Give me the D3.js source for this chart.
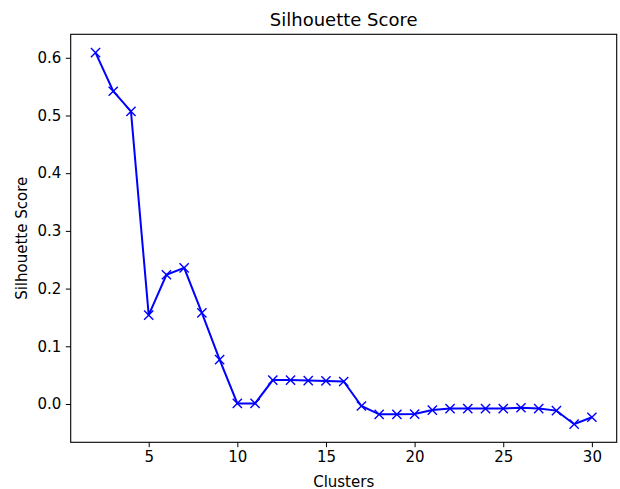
<!DOCTYPE html>
<html>
<head>
<meta charset="utf-8">
<script src="https://cdn.jsdelivr.net/npm/d3@7"></script>
<style>
  body { margin: 0; background: #fff; }
  text { font-family: "DejaVu Sans", sans-serif; fill: #000; }
</style>
</head>
<body>
<div id="chart"></div>
<script>
const clusters = [2, 3, 4, 5, 6, 7, 8, 9, 10, 11, 12, 13, 14, 15, 16, 17, 18, 19, 20, 21, 22, 23, 24, 25, 26, 27, 28, 29, 30];
const scores = [0.609, 0.542, 0.507, 0.154, 0.224, 0.236, 0.158, 0.077, 0.001, 0.001,
  0.0415, 0.0415, 0.0405, 0.040, 0.039, -0.0035, -0.018, -0.018, -0.0175, -0.0105,
  -0.008, -0.008, -0.008, -0.008, -0.0065, -0.008, -0.0115, -0.035, -0.023];
const xTicks = [5, 10, 15, 20, 25, 30];
const yTicks = [0.0, 0.1, 0.2, 0.3, 0.4, 0.5, 0.6];

const width = 620, height = 489;
const margin = {top: 34.3, right: 3.3, bottom: 46.7, left: 70.7};

const svg = d3.select("#chart").append("svg")
  .attr("width", width)
  .attr("height", height);

const xScale = d3.scaleLinear()
  .domain([0.6, 31.4])
  .range([margin.left, width - margin.right]);

const yScale = d3.scaleLinear()
  .domain([-0.0664, 0.6407])
  .range([height - margin.bottom, margin.top]);

// axes
const xAxis = svg.append("g")
  .attr("transform", `translate(0,${height - margin.bottom})`)
  .call(d3.axisBottom(xScale).tickValues(xTicks).tickFormat(d3.format("d")).tickSize(4.9).tickPadding(4.5));

const yAxis = svg.append("g")
  .attr("transform", `translate(${margin.left},0)`)
  .call(d3.axisLeft(yScale).tickValues(yTicks).tickFormat(d3.format(".1f")).tickSize(4.9).tickPadding(4.5));

[xAxis, yAxis].forEach(a => {
  a.select(".domain").remove();
  a.selectAll("text").style("font-size", "15px").style("font-family", "DejaVu Sans");
  a.selectAll("line").attr("stroke", "#000").attr("stroke-width", 1);
});

// frame
svg.append("rect")
  .attr("x", margin.left)
  .attr("y", margin.top)
  .attr("width", width - margin.left - margin.right)
  .attr("height", height - margin.top - margin.bottom)
  .attr("fill", "none")
  .attr("stroke", "#000")
  .attr("stroke-width", 1.1);

const data = clusters.map((c, i) => ({c, s: scores[i]}));

const line = d3.line()
  .x(d => xScale(d.c))
  .y(d => yScale(d.s));

svg.append("path")
  .datum(data)
  .attr("d", line)
  .attr("fill", "none")
  .attr("stroke", "#0000ff")
  .attr("stroke-width", 2);

const m = 4.6; // marker half size
svg.append("g").selectAll("path")
  .data(data)
  .enter().append("path")
    .attr("d", d => {
      const x = xScale(d.c), y = yScale(d.s);
      return `M${x - m},${y - m}L${x + m},${y + m}M${x - m},${y + m}L${x + m},${y - m}`;
    })
    .attr("stroke", "#0000ff")
    .attr("stroke-width", 1.4)
    .attr("fill", "none");

// labels
svg.append("text")
  .attr("x", (margin.left + width - margin.right) / 2)
  .attr("y", 26)
  .attr("text-anchor", "middle")
  .style("font-size", "18px")
  .text("Silhouette Score");

svg.append("text")
  .attr("x", (margin.left + width - margin.right) / 2)
  .attr("y", 486.5)
  .attr("text-anchor", "middle")
  .style("font-size", "15px")
  .text("Clusters");

svg.append("text")
  .attr("transform", `translate(26.5,${(margin.top + height - margin.bottom) / 2}) rotate(-90)`)
  .attr("text-anchor", "middle")
  .style("font-size", "15px")
  .text("Silhouette Score");
</script>
</body>
</html>
